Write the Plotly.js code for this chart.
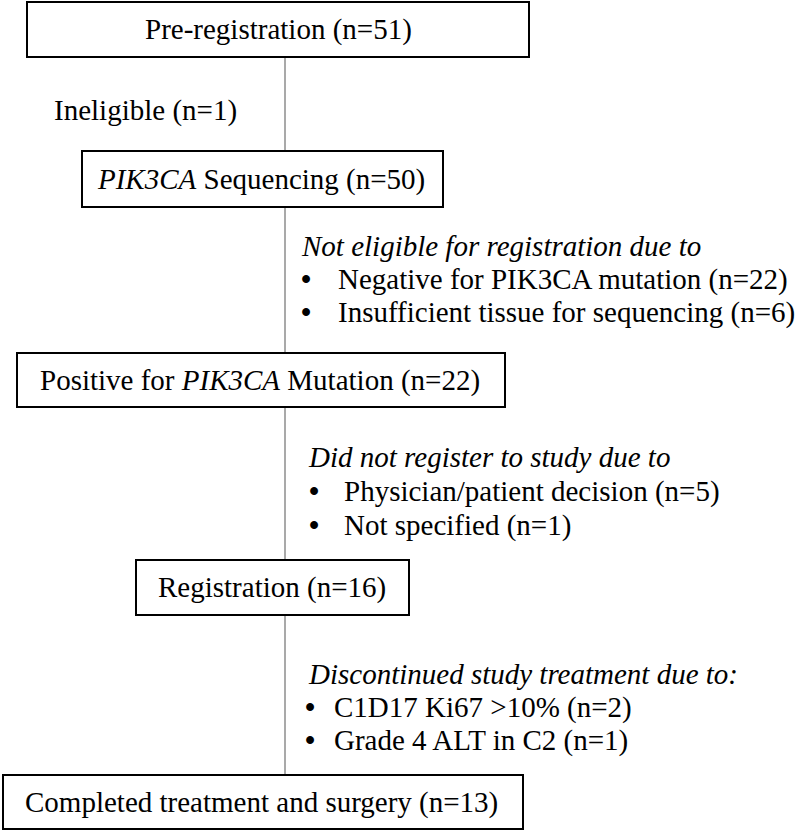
<!DOCTYPE html>
<html>
<head>
<meta charset="utf-8">
<script src="https://cdn.plot.ly/plotly-3.0.1.min.js"></script>
<style>html,body{margin:0;padding:0;background:#fff;font-family:'Liberation Serif',serif;}</style>
</head>
<body>
<div id="chart" style="width:802px;height:830px"></div>
<script>
// ---- Data ----
const stageNames = ['Pre-registration', '<i>PIK3CA</i> Sequencing', 'Positive for <i>PIK3CA</i> Mutation', 'Registration', 'Completed treatment and surgery'];
const stageCounts = [51, 50, 22, 16, 13];
const exclusionHeaders = ['Ineligible', '<i>Not eligible for registration due to</i>', '<i>Did not register to study due to</i>', '<i>Discontinued study treatment due to:</i>'];
const exclusionHeaderCounts = [1, null, null, null];
const reasonLabels = [[], ['Negative for PIK3CA mutation', 'Insufficient tissue for sequencing'], ['Physician/patient decision', 'Not specified'], ['C1D17 Ki67 &gt;10%', 'Grade 4 ALT in C2']];
const reasonCounts = [[], [22, 6], [5, 1], [2, 1]];

// ---- Layout (pixel geometry of the diagram) ----
const boxes = [
  {x0: 27, x1: 529, y0: 2, y1: 57, tx: 278},
  {x0: 82, x1: 443, y0: 151, y1: 207, tx: 261},
  {x0: 17, x1: 505, y0: 353, y1: 407, tx: 260},
  {x0: 136, x1: 409, y0: 560, y1: 615, tx: 272},
  {x0: 3, x1: 523, y0: 775, y1: 829, tx: 261}
];
const groups = [
  {hx: 52, hy: 110, bx: 0, tx: 0, dy: 0},
  {hx: 299, hy: 246, bx: 299, tx: 336, dy: 33},
  {hx: 306, hy: 457, bx: 307, tx: 342, dy: 34},
  {hx: 306, hy: 674, bx: 303, tx: 332, dy: 33}
];
const lineX = 285;
const FONT = 'Liberation Serif';
const FS = 29;

const shapes = [];
shapes.push({type: 'line', x0: lineX, x1: lineX, y0: boxes[0].y1, y1: boxes[4].y0,
  line: {color: '#8c8c8c', width: 1.5}, layer: 'below'});
boxes.forEach(b => shapes.push({type: 'rect', x0: b.x0, x1: b.x1, y0: b.y0, y1: b.y1,
  line: {color: '#000', width: 2}, fillcolor: '#fff', layer: 'above'}));

const annotations = [];
const ann = (text, x, y, xanchor) => annotations.push({text, x, y, xref: 'x', yref: 'y',
  xanchor, yanchor: 'middle', showarrow: false, font: {family: FONT, size: FS, color: '#000'}});

stageNames.forEach((n, i) => {
  const b = boxes[i];
  ann(n + ' (n=' + stageCounts[i] + ')', b.tx, (b.y0 + b.y1) / 2, 'center');
});
exclusionHeaders.forEach((h, i) => {
  const g = groups[i];
  const t = exclusionHeaderCounts[i] != null ? h + ' (n=' + exclusionHeaderCounts[i] + ')' : h;
  ann(t, g.hx, g.hy, 'left');
  reasonLabels[i].forEach((r, j) => {
    const y = g.hy + g.dy * (j + 1);
    ann('<b>•</b>', g.bx, y, 'left');
    ann(r + ' (n=' + reasonCounts[i][j] + ')', g.tx, y, 'left');
  });
});

const layout = {
  width: 802, height: 830,
  margin: {l: 0, r: 0, t: 0, b: 0},
  font: {family: FONT, size: FS, color: '#000'},
  xaxis: {range: [0, 802], visible: false},
  yaxis: {range: [830, 0], visible: false},
  shapes, annotations, showlegend: false
};
Plotly.newPlot('chart', [], layout, {displayModeBar: false});
</script>
</body>
</html>
